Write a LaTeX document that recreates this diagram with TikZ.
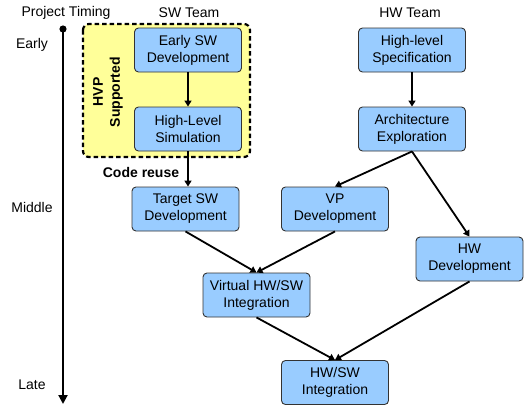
\documentclass[tikz,border=0pt]{standalone}
\usepackage{fontspec}
\setmainfont{Liberation Sans}
\usetikzlibrary{arrows.meta}
\definecolor{boxblue}{HTML}{99CCFF}
\definecolor{hvpyellow}{HTML}{FFFF99}
\begin{document}
\begin{tikzpicture}[x=1pt,y=-1pt,
  every node/.style={font=\fontsize{14}{17}\selectfont, inner sep=0pt},
  task/.style={draw=black!80, line width=0.9pt, fill=boxblue, rounded corners=4pt,
    minimum width=107pt, minimum height=44pt, align=center},
  flow/.style={line width=1.8pt, -{Triangle[length=6pt,width=7pt]}},
  lbl/.style={align=center}]
\useasboundingbox (0,0) rectangle (530,408);

% HVP supported region
\draw[line width=2.2pt, dash pattern=on 4.5pt off 3pt, fill=hvpyellow, rounded corners=6pt]
  (83,24) rectangle (250,157);
\node[lbl, rotate=90, font=\fontsize{14}{17}\bfseries] (hvp) at (108,92) {HVP\\Supported};
\node[font=\fontsize{14}{17}\bfseries] (reuse) at (141,172) {Code reuse};

% column headings
\node (pt) at (66,13) {Project Timing};
\node (swt) at (189,13) {SW Team};
\node (hwt) at (410,13) {HW Team};

% timeline
\node (early) at (32,45) {Early};
\node (middle) at (32,207) {Middle};
\node (late) at (32,385) {Late};
\coordinate (tltop) at (63,29);
\coordinate (tlbot) at (63,404);
\fill (tltop) circle (3.6pt);
\draw[line width=2pt, -{Triangle[length=9pt,width=9pt]}] (tltop) -- (tlbot);

% tasks
\node[task] (esw)   at (188,50)    {Early SW\\Development};
\node[task] (hls)   at (188,129)   {High-Level\\Simulation};
\node[task] (tsw)   at (185.5,209) {Target SW\\Development};
\node[task] (vp)    at (335,209)   {VP\\Development};
\node[task] (hspec) at (412,50)    {High-level\\Specification};
\node[task] (arch)  at (412,129)   {Architecture\\Exploration};
\node[task] (hwd)   at (469.5,259) {HW\\Development};
\node[task] (vint)  at (256.5,295) {Virtual HW/SW\\Integration};
\node[task] (hwsw)  at (335,382.5) {HW/SW\\Integration};

% dependencies
\draw[flow] (esw.south) -- (hls.north);
\draw[flow] (hls.south) -- (hls.south |- tsw.north);
\draw[flow] (hspec.south) -- (arch.north);
\draw[flow] (arch.south) -- (vp.north);
\draw[flow] (arch.south) -- (hwd.north);
\draw[flow] (tsw.south) -- (vint.north);
\draw[flow] (vp.south) -- (vint.north);
\draw[flow] (vint.south) -- (hwsw.north);
\draw[flow] (hwd.south) -- (hwsw.north);
\end{tikzpicture}
\end{document}
